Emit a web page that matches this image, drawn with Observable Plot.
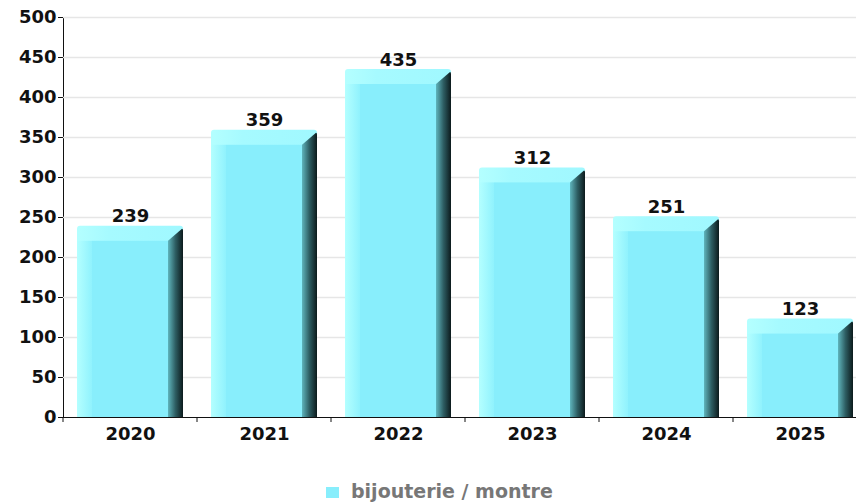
<!DOCTYPE html>
<html><head><meta charset="utf-8">
<script src="https://cdn.jsdelivr.net/npm/d3@7"></script>
<script src="https://cdn.jsdelivr.net/npm/@observablehq/plot@0.6"></script>
<style>
body{margin:0;background:#fff;font-family:"DejaVu Sans",sans-serif;overflow:hidden;}
#chart svg{overflow:hidden;}
#legend .sw{position:absolute;left:326px;top:487px;width:13px;height:11px;background:#88eefc;}
#legend .lt{position:absolute;left:351px;top:480px;font-weight:bold;font-size:19px;color:#777;white-space:nowrap;line-height:22px;}
</style></head><body>
<div id="chart"></div>
<div id="legend"><span class="sw"></span><span class="lt" id="legendText"></span></div>
<script>
const years = ["2020", "2021", "2022", "2023", "2024", "2025"];
const values = [239, 359, 435, 312, 251, 123];
const yTicks = [0, 50, 100, 150, 200, 250, 300, 350, 400, 450, 500];
const seriesName = "bijouterie / montre";

const data = years.map((year, i) => ({year, value: values[i]}));
document.getElementById("legendText").textContent = seriesName;

const BEVEL = 15, SIDE = 15;

function sideMark(index, scales) {
  const {x, y} = scales;
  const bw = x.bandwidth();
  const g = d3.create("svg:g");
  g.selectAll("path").data(data).join("path")
    .attr("fill", "url(#sideGrad)")
    .attr("d", d => {
      const x0 = x(d.year), yt = y(d.value), yb = y(0);
      return `M${x0 + bw - SIDE},${yt + BEVEL}L${x0 + bw - 1},${yt + 3}Q${x0 + bw},${yt + 3} ${x0 + bw},${yt + 5}L${x0 + bw},${yb}L${x0 + bw - SIDE},${yb}Z`;
    });
  return g.node();
}

function xTickMark(index, scales) {
  const {x, y} = scales;
  const step = x.step(), bw = x.bandwidth();
  const off = (step - bw) / 2;
  const pos = years.map(yr => x(yr) - off).concat([x(years[years.length - 1]) + bw + off]);
  const g = d3.create("svg:g").attr("stroke", "#111");
  g.selectAll("line").data(pos).join("line")
    .attr("x1", d => d).attr("x2", d => d)
    .attr("y1", y(0)).attr("y2", y(0) + 5);
  return g.node();
}

const svg = Plot.plot({
  width: 856,
  height: 470,
  marginTop: 17,
  marginBottom: 53,
  marginLeft: 63,
  marginRight: 0,
  style: {fontFamily: "DejaVu Sans", fontSize: "18px", fontWeight: "bold", color: "#111", background: "#fff"},
  x: {domain: years, range: [63, 867], paddingInner: 0.21, paddingOuter: 0.105, align: 0.5, label: null, tickSize: 0, tickPadding: 10, line: true},
  y: {domain: [0, 500], ticks: yTicks, label: null, tickSize: 5, tickPadding: 2, line: true},
  marks: [
    Plot.ruleY(yTicks.filter(t => t > 0), {stroke: "#e6e6e6", strokeWidth: 1.5}),
    Plot.barY(data, {x: "year", y: "value", fill: "url(#topGrad)", rx: 3}),
    Plot.barY(data, {x: "year", y: "value", fill: "url(#leftGrad)", insetTop: BEVEL, insetRight: 106 - BEVEL}),
    Plot.barY(data, {x: "year", y: "value", fill: "#88eefc", insetTop: BEVEL, insetLeft: BEVEL, insetRight: SIDE}),
    sideMark,
    xTickMark,
    Plot.text(data, {x: "year", y: "value", text: d => String(d.value), lineAnchor: "bottom", dy: -4, fill: "#111"})
  ]
});

svg.insertAdjacentHTML("afterbegin", `<defs>
<linearGradient id="topGrad" x1="0" x2="1" y1="0" y2="0">
<stop offset="0" stop-color="#b4ffff"/><stop offset="0.3" stop-color="#a6faff"/><stop offset="1" stop-color="#a0f8ff"/></linearGradient>
<linearGradient id="leftGrad" x1="0" x2="1" y1="0" y2="0">
<stop offset="0" stop-color="#b4ffff"/><stop offset="1" stop-color="#90f2fd"/></linearGradient>
<linearGradient id="sideGrad" x1="0" x2="1" y1="0" y2="0">
<stop offset="0" stop-color="#5fb5bd"/><stop offset="0.5" stop-color="#2d5d62"/><stop offset="1" stop-color="#0c1a1c"/></linearGradient>
</defs>`);
document.getElementById("chart").appendChild(svg);
</script>
</body></html>
